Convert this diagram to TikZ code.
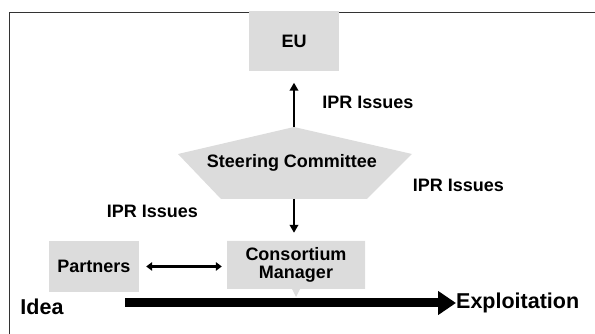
\documentclass[tikz,border=0pt]{standalone}
\usepackage{fontspec}
\setmainfont{Liberation Sans}
\usepackage{tikz}
\usetikzlibrary{positioning,arrows.meta,calc,shapes.callouts}
\definecolor{boxgray}{HTML}{DCDCDC}
\definecolor{framegray}{HTML}{333333}
\tikzset{
    every node/.style={font=\bfseries\fontsize{18}{17.5}\selectfont},
    block/.style={fill=boxgray,inner sep=0pt,align=center},
    label/.style={inner sep=0pt},
    biglabel/.style={inner sep=0pt,font=\bfseries\fontsize{21.5}{21.5}\selectfont},
    link/.style={line width=2.8pt,-{Triangle[length=8pt,width=8.5pt]}},
    twoway/.style={line width=2.8pt,{Triangle[length=6pt,width=8.5pt]}-{Triangle[length=6pt,width=8.5pt]}},
    flow/.style={line width=9pt,-{Triangle[length=18pt,width=23pt]}}
}

\begin{document}
\begin{tikzpicture}[x=1pt,y=1pt]
\useasboundingbox (0,0) rectangle (595,334);
% frame
\draw[framegray,line width=1pt] (595,321.5) -- (9.5,321.5) -- (9.5,0);

% boxes
\node[block,minimum width=90pt,minimum height=60pt] (eu) at (294,292.5) {EU};
\fill[boxgray] (294,207) -- (412,180) -- (367,135) -- (221,135) -- (178,180) -- cycle;
\node[label] (sc) at (292,171) {Steering Committee};
\coordinate (sctop) at (294,207);
\coordinate (scbot) at (294,135);
\node[block,minimum width=90pt,minimum height=51pt] (partners) at (94,67.5) {Partners};
\node[block,rectangle callout,callout relative pointer={(0,-8)},callout pointer width=8pt,
      minimum width=138pt,minimum height=48pt] (cm) at (296,69) {Consortium\\Manager};

% connectors
\draw[link,shorten >=11pt] (sctop) -- (eu.south);
\draw[link,shorten >=8pt] (scbot) -- (cm.north -| scbot);
\draw[twoway,shorten <=7pt,shorten >=5pt] (partners.east) -- (cm.west |- partners.east);

% labels
\node[label] (ipr1) at (368,232) {IPR Issues};
\node[label] (ipr2) at (458.5,149) {IPR Issues};
\node[label] (ipr3) at (152.5,123) {IPR Issues};

% idea to exploitation
\node[biglabel] (idea) at (42,27) {Idea};
\node[biglabel,anchor=west] (expl) at (456,31) {Exploitation};
\coordinate (flowstart) at (125,31);
\draw[flow] (flowstart) -- (expl.west);
\end{tikzpicture}
\end{document}
